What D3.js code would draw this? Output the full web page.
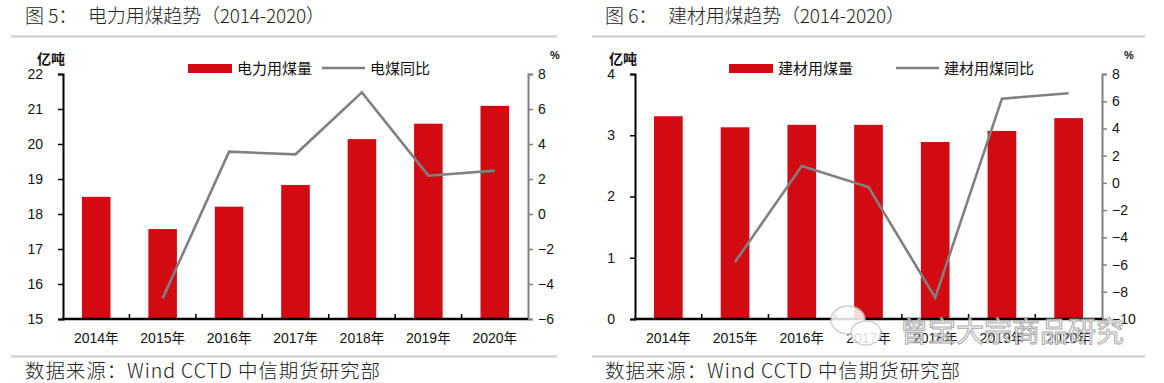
<!DOCTYPE html>
<html><head><meta charset="utf-8">
<script src="https://cdn.jsdelivr.net/npm/d3@7"></script>
<style>
body{margin:0;background:#fff;}
svg{display:block;}
text{font-family:"Liberation Sans",Arial,sans-serif;}
.cjk{font-family:"Noto Sans CJK SC","Noto Sans",sans-serif;}
</style></head><body>
<svg id="c" width="1164" height="383"></svg>
<script>
const years = ["2014年","2015年","2016年","2017年","2018年","2019年","2020年"];
// Chart 1: 电力用煤
const powerCoal = [18.49, 17.57, 18.21, 18.83, 20.14, 20.58, 21.09];
const powerYoY = [null, -4.82, 3.56, 3.41, 6.95, 2.19, 2.48];
const leftTicks1 = [15,16,17,18,19,20,21,22];
const rightTicks1 = [-6,-4,-2,0,2,4,6,8];
// Chart 2: 建材用煤
const buildCoal = [3.31, 3.13, 3.17, 3.17, 2.89, 3.07, 3.28];
const buildYoY = [null, -5.81, 1.24, -0.30, -8.43, 6.19, 6.58];
const leftTicks2 = [0,1,2,3,4];
const rightTicks2 = [-10,-8,-6,-4,-2,0,2,4,6,8];

const svg = d3.select("#c");
const RED = "#d20a11", GRAY = "#808080";

function fmt(v){ return v < 0 ? "\u2212" + Math.abs(v) : String(v); }

function drawChart(o){
  const g = svg.append("g");
  // title
  const t = g.append("text").attr("class","cjk").attr("x",o.tx).attr("y",23)
   .attr("font-size",19).attr("font-weight",300).attr("fill","#222");
  t.append("tspan").text(o.titleA);
  t.append("tspan").attr("x",o.tx+63).text(o.titleB)
   .attr("textLength",237).attr("lengthAdjust","spacing");
  // rules
  g.append("rect").attr("x",o.rx0).attr("y",35).attr("width",o.rx1-o.rx0).attr("height",3).attr("fill","#d9d9d9");
  g.append("rect").attr("x",o.rx0).attr("y",355).attr("width",o.rx1-o.rx0).attr("height",3).attr("fill","#d9d9d9");
  g.append("text").attr("class","cjk").attr("x",o.tx).attr("y",378)
   .attr("font-size",19.5).attr("font-weight",300).attr("fill","#222")
   .attr("textLength",355).attr("lengthAdjust","spacing")
   .text("数据来源：Wind CCTD 中信期货研究部");

  const x = d3.scaleBand().domain(years).range([o.x0,o.x1]).paddingInner(0.57).paddingOuter(0.285);
  const yL = d3.scaleLinear().domain(o.lDom).range([o.y1,o.y0]);
  const yR = d3.scaleLinear().domain(o.rDom).range([o.y1,o.y0]);

  // bars
  g.selectAll("rect.bar").data(o.bars).join("rect").attr("class","bar")
   .attr("x",(d,i)=>x(years[i])).attr("width",x.bandwidth())
   .attr("y",d=>yL(d)).attr("height",d=>yL(o.lDom[0])-yL(d)).attr("fill",RED);

  // line
  const line = d3.line().defined(d=>d.v!==null)
    .x(d=>x(d.c)+x.bandwidth()/2).y(d=>yR(d.v));
  g.append("path").datum(o.line.map((v,i)=>({c:years[i],v})))
   .attr("d",line).attr("fill","none").attr("stroke",GRAY).attr("stroke-width",2.6);

  // left axis
  const la = g.append("g").attr("transform",`translate(${o.x0},0)`)
    .call(d3.axisLeft(yL).tickValues(o.lTicks).tickSize(5).tickFormat(fmt));
  la.select(".domain").attr("stroke","#000").attr("stroke-width",2);
  la.selectAll(".tick line").attr("stroke","#000").attr("stroke-width",1.5);
  la.selectAll(".tick text").attr("font-size",14).attr("fill","#111").attr("x",-o.lpad);
  // right axis
  const ra = g.append("g").attr("transform",`translate(${o.x1},0)`)
    .call(d3.axisRight(yR).tickValues(o.rTicks).tickSize(5).tickFormat(fmt));
  ra.select(".domain").attr("stroke",GRAY).attr("stroke-width",2);
  ra.selectAll(".tick line").attr("stroke",GRAY).attr("stroke-width",1.5);
  ra.selectAll(".tick text").attr("font-size",14).attr("fill","#111").attr("x",o.rpad);
  // bottom axis
  g.append("line").attr("x1",o.x0-1).attr("x2",o.x1).attr("y1",o.y1).attr("y2",o.y1)
   .attr("stroke","#000").attr("stroke-width",2.5);
  g.selectAll("line.xt").data(d3.range(1,years.length)).join("line").attr("class","xt")
   .attr("x1",i=>o.x0+i*(o.x1-o.x0)/years.length).attr("x2",i=>o.x0+i*(o.x1-o.x0)/years.length)
   .attr("y1",o.y1).attr("y2",o.y1-5).attr("stroke","#000").attr("stroke-width",1.5);
  g.selectAll("text.xl").data(years).join("text").attr("class","xl")
   .attr("x",d=>x(d)+x.bandwidth()/2).attr("y",o.y1+24).attr("text-anchor","middle")
   .attr("font-size",14).attr("fill","#111")
   .each(function(d){
     const t=d3.select(this);
     t.append("tspan").text(d.slice(0,4));
     t.append("tspan").attr("font-family","Noto Sans CJK SC").attr("font-size",13.5).text(d.slice(4));
   });

  // unit labels
  g.append("text").attr("class","cjk").attr("x",o.x0-26).attr("y",64).attr("font-size",14)
   .attr("font-weight",700).attr("fill","#111").text("亿吨");
  g.append("text").attr("x",o.x1+22).attr("y",59).attr("font-size",11)
   .attr("font-weight",700).attr("fill","#111").text("%");

  // legend
  g.append("rect").attr("x",o.lg1).attr("y",64).attr("width",44).attr("height",9).attr("fill",RED);
  g.append("text").attr("class","cjk").attr("x",o.lg1+49).attr("y",74).attr("font-size",15).attr("fill","#111").text(o.barName);
  g.append("line").attr("x1",o.lg2).attr("x2",o.lg2+43).attr("y1",68).attr("y2",68).attr("stroke",GRAY).attr("stroke-width",2.6);
  g.append("text").attr("class","cjk").attr("x",o.lg2+48).attr("y",74).attr("font-size",15).attr("fill","#111").text(o.lineName);
}

drawChart({titleA:"图 5：", titleB:"电力用煤趋势（2014-2020）", tx:25, rx0:11, rx1:557,
  x0:63, x1:528, y0:74, y1:319, lDom:[15,22], rDom:[-6,8],
  bars:powerCoal, line:powerYoY, lTicks:leftTicks1, rTicks:rightTicks1,
  lpad:20, rpad:10, lg1:188, lg2:322, barName:"电力用煤量", lineName:"电煤同比"});
drawChart({titleA:"图 6：", titleB:"建材用煤趋势（2014-2020）", tx:605, rx0:592, rx1:1145,
  x0:635, x1:1102, y0:74, y1:319, lDom:[0,4], rDom:[-10,8],
  bars:buildCoal, line:buildYoY, lTicks:leftTicks2, rTicks:rightTicks2,
  lpad:20, rpad:10, lg1:729, lg2:896, barName:"建材用煤量", lineName:"建材用煤同比"});

// watermark
const wm = svg.append("g").attr("opacity",0.85);
wm.append("ellipse").attr("cx",848).attr("cy",320).attr("rx",17).attr("ry",14).attr("fill","#fff").attr("stroke","#c8c8c8").attr("stroke-width",1.5);
wm.append("ellipse").attr("cx",866).attr("cy",333).attr("rx",15).attr("ry",12).attr("fill","#fff").attr("stroke","#c8c8c8").attr("stroke-width",1.5);
wm.append("text").attr("class","cjk").attr("x",900).attr("y",342).attr("font-size",28)
  .attr("fill","#fff").attr("stroke","#9a9a9a").attr("stroke-width",1).text("曾宝大宗商品研究");
</script></body></html>
